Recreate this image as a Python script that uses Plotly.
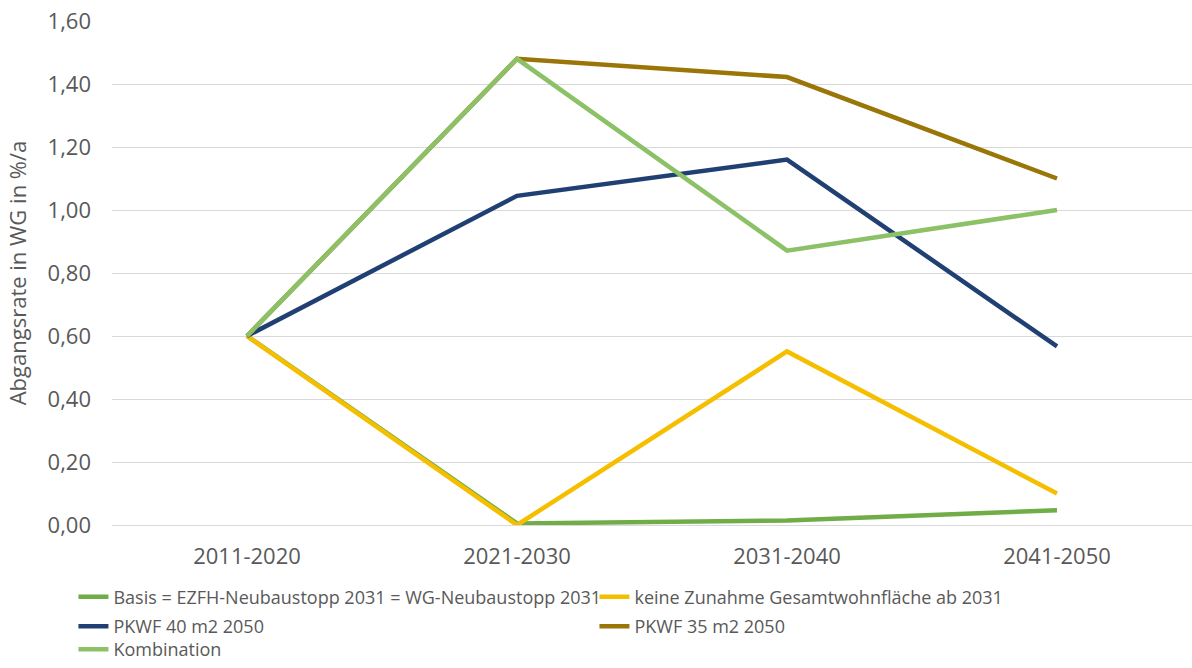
import plotly.graph_objects as go

categories = ["2011-2020", "2021-2030", "2031-2040", "2041-2050"]
series_names = [
    "Basis = EZFH-Neubaustopp 2031 = WG-Neubaustopp 2031",
    "keine Zunahme Gesamtwohnfläche ab 2031",
    "PKWF 40 m2 2050",
    "PKWF 35 m2 2050",
    "Kombination",
]
basis = [0.60, 0.005, 0.014, 0.047]
keine_zunahme = [0.60, 0.00, 0.551, 0.10]
pkwf40 = [0.60, 1.045, 1.16, 0.567]
pkwf35 = [0.60, 1.48, 1.422, 1.10]
kombination = [0.60, 1.48, 0.871, 1.00]
y_ticks = [0, 0.2, 0.4, 0.6, 0.8, 1.0, 1.2, 1.4, 1.6]

colors = ["#70AD47", "#F5BF00", "#203F73", "#9A7508", "#8CC168"]
values = [basis, keine_zunahme, pkwf40, pkwf35, kombination]
legend_ids = ["legend", "legend", "legend2", "legend2", "legend3"]

fig = go.Figure()
for name, vals, c, lg in zip(series_names, values, colors, legend_ids):
    fig.add_trace(go.Scatter(
        x=categories, y=vals, name=name, mode="lines",
        line=dict(color=c, width=4.5), legend=lg,
    ))

font_family = "Open Sans, Noto Sans, sans-serif"
leg_common = dict(
    orientation="h", xanchor="left", yanchor="middle", x=-0.0357,
    entrywidth=476, entrywidthmode="pixels",
    font=dict(size=18, color="#595959", family=font_family),
    traceorder="normal", itemwidth=30, bgcolor="rgba(0,0,0,0)",
)
fig.update_layout(
    width=1192, height=668,
    paper_bgcolor="white", plot_bgcolor="white",
    separators=",.",
    margin=dict(l=112, r=0, t=21, b=142),
    font=dict(family=font_family, color="#595959"),
    showlegend=True,
    legend=dict(leg_common, y=-0.1406),
    legend2=dict(leg_common, y=-0.1990),
    legend3=dict(leg_common, y=-0.2480),
    xaxis=dict(
        type="category", range=[-0.5, 3.5], automargin=False,
        showgrid=False, zeroline=False, showline=False,
        tickfont=dict(size=22, color="#595959"), ticks="",
        ticklabelstandoff=16,
    ),
    yaxis=dict(
        range=[0, 1.6], tickvals=y_ticks, tickformat=".2f", automargin=False,
        showgrid=True, gridcolor="#D9D9D9", gridwidth=1,
        zeroline=True, zerolinecolor="#D9D9D9", zerolinewidth=1,
        tickfont=dict(size=22, color="#595959"), ticks="",
        ticklabelstandoff=20,
        title=dict(text="Abgangsrate in WG in %/a", font=dict(size=22, color="#595959"), standoff=14),
    ),
)
fig.write_html("out.html", config={"displayModeBar": False},
               post_script="document.body.style.margin='0';")
